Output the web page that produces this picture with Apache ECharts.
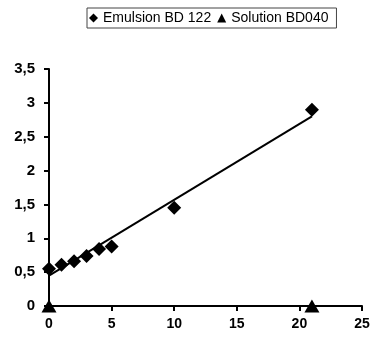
<!DOCTYPE html>
<html><head><meta charset="utf-8">
<script src="https://cdn.jsdelivr.net/npm/echarts@6/dist/echarts.min.js"></script>
<style>html,body{margin:0;padding:0;background:#fff}#c{width:373px;height:337px}</style>
</head><body><div id="c"></div>
<script>
const emulsionX = [0, 1, 2, 3, 4, 5, 10, 21];
const emulsionY = [0.55, 0.61, 0.66, 0.74, 0.84, 0.88, 1.45, 2.9];
const solutionX = [0, 21];
const solutionY = [0, 0];
const trendX = [0, 21];
const trendY = [0.45, 2.8];
const xTicks = [0, 5, 10, 15, 20, 25];
const yTicks = [0, 0.5, 1, 1.5, 2, 2.5, 3, 3.5];

const zip = (a, b) => a.map((v, i) => [v, b[i]]);
const font = 'Liberation Sans, Arial, sans-serif';
const chart = echarts.init(document.getElementById('c'), null, {renderer: 'canvas'});
chart.setOption({
  animation: false,
  backgroundColor: '#fff',
  legend: {
    top: 8, left: 87,
    itemWidth: 9, itemHeight: 9, itemGap: 6,
    padding: [3, 8, 3, 2],
    borderColor: '#444', borderWidth: 1,
    textStyle: {fontFamily: font, fontSize: 14, color: '#000'},
    data: [
      {name: 'Emulsion BD 122', icon: 'diamond'},
      {name: 'Solution BD040', icon: 'triangle'}
    ]
  },
  grid: {left: 49, right: 11, top: 69, bottom: 31},
  xAxis: {
    type: 'value', min: 0, max: 25, interval: 5,
    axisLine: {lineStyle: {color: '#000', width: 2}},
    axisTick: {show: true, length: 5, lineStyle: {color: '#000', width: 2}},
    splitLine: {show: false},
    axisLabel: {fontFamily: font, fontSize: 14, fontWeight: 'bold', color: '#000', margin: 11,
      formatter: v => xTicks.includes(v) ? String(v) : ''}
  },
  yAxis: {
    type: 'value', min: 0, max: 3.5, interval: 0.5,
    axisLine: {show: true, lineStyle: {color: '#000', width: 2}},
    axisTick: {show: true, length: 5, lineStyle: {color: '#000', width: 2}},
    splitLine: {show: false},
    axisLabel: {fontFamily: font, fontSize: 15, fontWeight: 'bold', color: '#000', margin: 14,
      formatter: v => yTicks.includes(v) ? String(v).replace('.', ',') : ''}
  },
  series: [
    {
      name: 'trend', type: 'line', data: zip(trendX, trendY),
      symbol: 'none', lineStyle: {color: '#000', width: 2}, silent: true, z: 1
    },
    {
      name: 'Emulsion BD 122', type: 'scatter', data: zip(emulsionX, emulsionY),
      symbol: 'diamond', symbolSize: 14, itemStyle: {color: '#000', opacity: 1}, z: 3
    },
    {
      name: 'Solution BD040', type: 'scatter', data: zip(solutionX, solutionY),
      symbol: 'triangle', symbolSize: [15, 13], itemStyle: {color: '#000', opacity: 1}, z: 3, clip: false
    }
  ]
});
</script></body></html>
